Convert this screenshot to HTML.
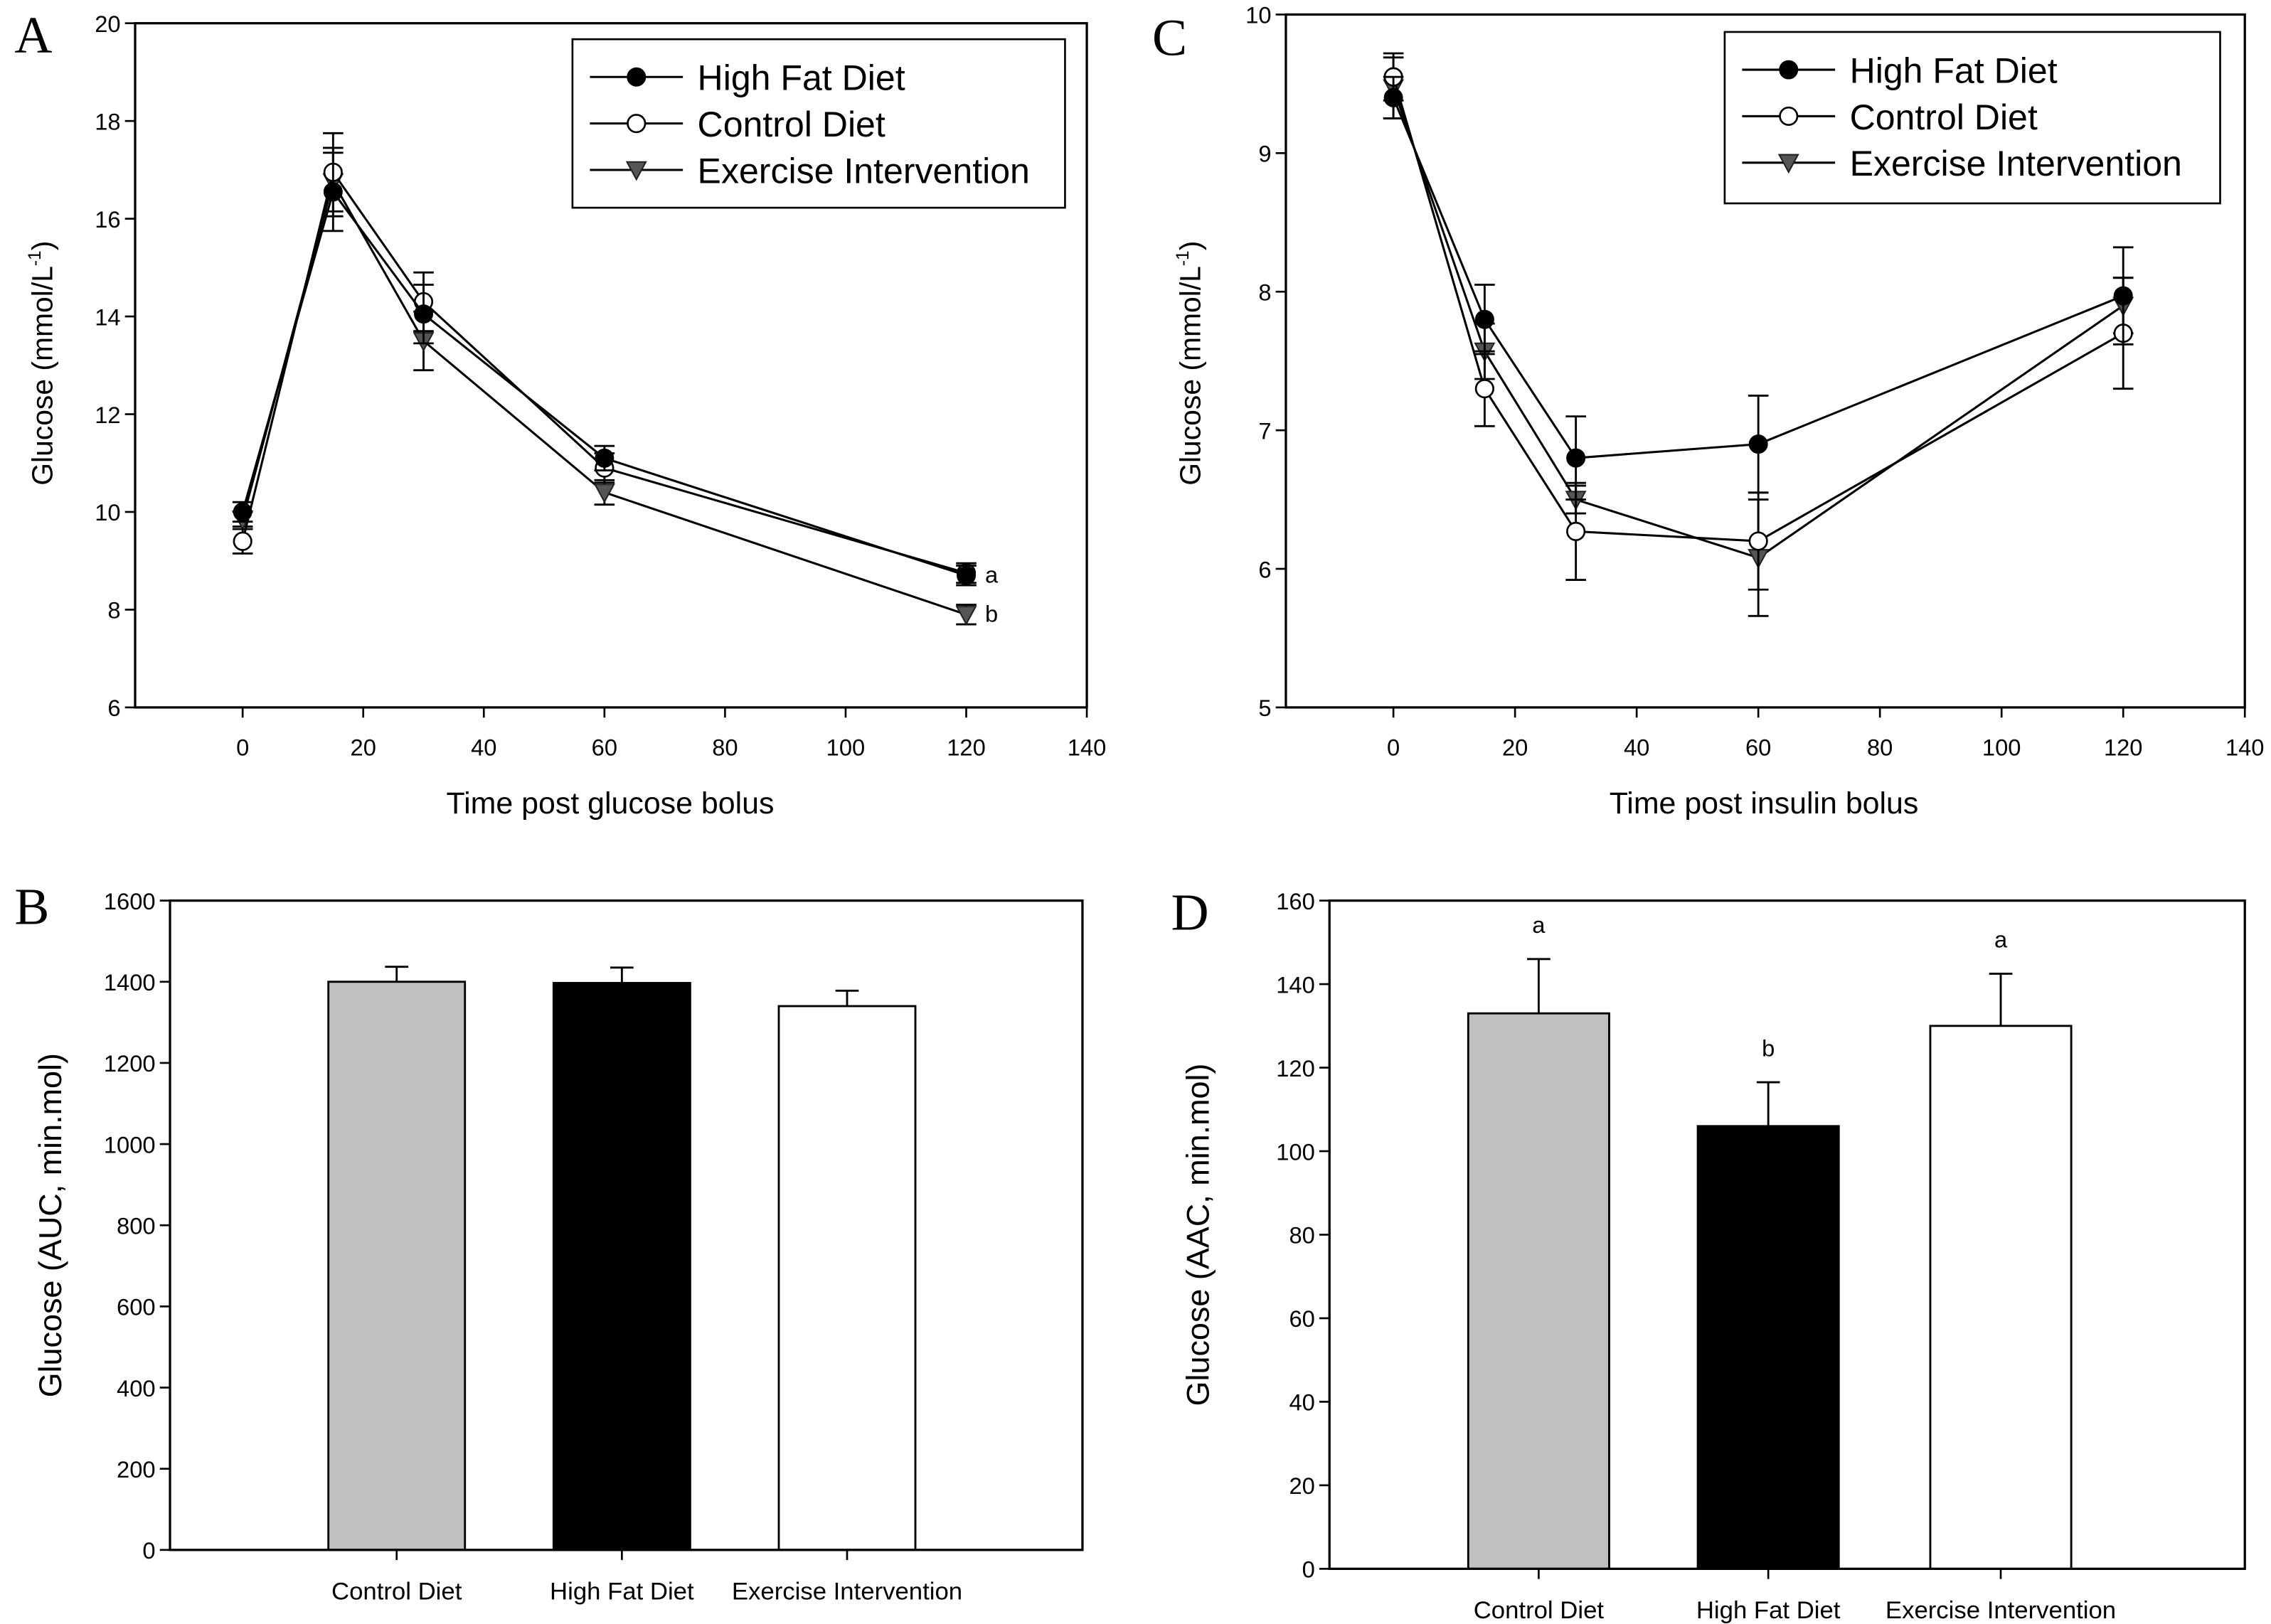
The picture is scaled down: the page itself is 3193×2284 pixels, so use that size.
<!DOCTYPE html>
<html><head><meta charset="utf-8"><style>
html,body{margin:0;padding:0;background:#fff}
svg{display:block}
text{font-family:"Liberation Sans",Arial,sans-serif;fill:#000}
.tk{font-family:"Liberation Sans Narrow","Liberation Sans",sans-serif;font-size:16px}
.ck{font-family:"Liberation Sans Narrow","Liberation Sans",sans-serif;font-size:17px}
.pl{font-family:"Liberation Serif",serif;font-size:36px}
</style></head><body>
<svg id="fig" width="3193" height="2284" viewBox="0 0 1563 1118" preserveAspectRatio="none" xmlns="http://www.w3.org/2000/svg"></svg>
<script>
// ---- Data ----
const timesA = [0, 15, 30, 60, 120];
const hfdA = [10.0, 16.55, 14.05, 11.1, 8.7];
const hfdAErr = [0.2, 0.8, 0.6, 0.25, 0.2];
const ctlA = [9.4, 16.95, 14.3, 10.9, 8.75];
const ctlAErr = [0.25, 0.8, 0.6, 0.3, 0.2];
const exA = [9.85, 16.75, 13.5, 10.4, 7.9];
const exAErr = [0.15, 0.7, 0.6, 0.25, 0.2];
const timesC = [0, 15, 30, 60, 120];
const hfdC = [9.4, 7.8, 6.8, 6.9, 7.97];
const hfdCErr = [0.15, 0.25, 0.3, 0.35, 0.35];
const ctlC = [9.55, 7.3, 6.27, 6.2, 7.7];
const ctlCErr = [0.17, 0.27, 0.35, 0.35, 0.4];
const exC = [9.47, 7.57, 6.5, 6.08, 7.9];
const exCErr = [0.22, 0.2, 0.1, 0.42, 0.2];
const barCats = ["Control Diet", "High Fat Diet", "Exercise Intervention"];
const aucVals = [1400, 1397, 1340];
const aucErr = [37, 38, 38];
const aacVals = [133, 106, 130];
const aacErr = [13, 10.5, 12.5];
const aacLetters = ["a", "b", "a"];
const xTicks = [0, 20, 40, 60, 80, 100, 120, 140];
const yTicksA = [6, 8, 10, 12, 14, 16, 18, 20];
const yTicksC = [5, 6, 7, 8, 9, 10];
const yTicksB = [0, 200, 400, 600, 800, 1000, 1200, 1400, 1600];
const yTicksD = [0, 20, 40, 60, 80, 100, 120, 140, 160];

const NS = "http://www.w3.org/2000/svg";
const svg = document.getElementById("fig");
function el(tag, attrs, parent, txt) {
  const e = document.createElementNS(NS, tag);
  for (const k in attrs) e.setAttribute(k, attrs[k]);
  if (txt !== undefined) e.textContent = txt;
  (parent || svg).appendChild(e);
  return e;
}
function lin(d0, d1, r0, r1) { return v => r0 + (v - d0) * (r1 - r0) / (d1 - d0); }

function frame(g, L, R, T, B) {
  const r = el("rect", {x: L, y: T, width: R - L, height: B - T, fill: "none", stroke: "#000", "stroke-width": 1.6}, g);
  
  
}
function yAxis(g, ticks, y, L) {
  ticks.forEach(t => {
    el("line", {x1: L - 7, x2: L, y1: y(t), y2: y(t), stroke: "#000", "stroke-width": 1.3}, g);
    const tx = el("text", {x: L - 10, y: y(t) + 6, "text-anchor": "end", class: "tk"}, g, String(t));
    
    
  });
}
function xAxisNum(g, ticks, x, B) {
  ticks.forEach(t => {
    el("line", {x1: x(t), x2: x(t), y1: B, y2: B + 7, stroke: "#000", "stroke-width": 1.3}, g);
    const tx = el("text", {x: x(t), y: B + 33, "text-anchor": "middle", class: "tk"}, g, String(t));
    
    
  });
}
function marker(g, type, cx, cy) {
  if (type === "filled") el("circle", {cx, cy, r: 6, fill: "#000", stroke: "#000", "stroke-width": 1.2}, g);
  else if (type === "open") el("circle", {cx, cy, r: 6, fill: "#fff", stroke: "#000", "stroke-width": 1.3}, g);
  else el("polygon", {points: `${cx-6.5},${cy-5.5} ${cx+6.5},${cy-5.5} ${cx},${cy+6.5}`, fill: "#555", stroke: "#222", "stroke-width": 1}, g);
}
function series(g, name, type, xs, ys, es, x, y) {
  const sg = el("g", {}, g);
  
  
  el("polyline", {points: xs.map((t, i) => x(t) + "," + y(ys[i])).join(" "), fill: "none", stroke: "#000", "stroke-width": 1.5}, sg);
  xs.forEach((t, i) => {
    const cx = x(t), y1 = y(ys[i] + es[i]), y2 = y(ys[i] - es[i]);
    el("line", {x1: cx, x2: cx, y1, y2, stroke: "#000", "stroke-width": 1.4}, sg);
    el("line", {x1: cx - 7, x2: cx + 7, y1, y2: y1, stroke: "#000", "stroke-width": 1.4}, sg);
    el("line", {x1: cx - 7, x2: cx + 7, y1: y2, y2: y2, stroke: "#000", "stroke-width": 1.4}, sg);
  });
  xs.forEach((t, i) => marker(sg, type, x(t), y(ys[i])));
}
function legend(g, lx, ly, w, h) {
  const lg = el("g", {}, g);
  
  
  el("rect", {x: lx, y: ly, width: w, height: h, fill: "#fff", stroke: "#000", "stroke-width": 1.3}, lg);
  const items = [["High Fat Diet", "filled"], ["Control Diet", "open"], ["Exercise Intervention", "tri"]];
  items.forEach((it, i) => {
    const yy = ly + 26 + i * 32;
    const eg = el("g", {}, lg);
    
    
    el("line", {x1: lx + 12, x2: lx + 76, y1: yy, y2: yy, stroke: "#000", "stroke-width": 1.5}, eg);
    marker(eg, it[1], lx + 44, yy);
    el("text", {x: lx + 86, y: yy + 9, "font-size": 24.5}, eg, it[0]);
  });
}
function yTitle(g, cx, cy, html, size) {
  const t = el("text", {x: cx, y: cy, "text-anchor": "middle", "font-size": size, transform: `rotate(-90 ${cx} ${cy})`}, g);
  t.innerHTML = html;
  
  
}
function panelLetter(x, y, s) {
  const t = el("text", {x, y, class: "pl"}, svg, s);
  
  
}

// ---- Panel A ----
{
  const g = el("g", {});  
  const L = 93, R = 748, T = 16, B = 487;
  const x = lin(0, 140, 167, 748), y = lin(6, 20, B, T);
  frame(g, L, R, T, B);
  yAxis(g, yTicksA, y, L); xAxisNum(g, xTicks, x, B);
  series(g, "series-exercise", "tri", timesA, exA, exAErr, x, y);
  series(g, "series-control", "open", timesA, ctlA, ctlAErr, x, y);
  series(g, "series-high-fat", "filled", timesA, hfdA, hfdAErr, x, y);
  el("text", {x: x(120) + 13, y: y(hfdA[4]) + 5, "font-size": 16}, g, "a");
  el("text", {x: x(120) + 13, y: y(exA[4]) + 5, "font-size": 16}, g, "b");
  legend(g, 394, 27, 339, 116);
  const xt = el("text", {x: 420, y: 560, "text-anchor": "middle", "font-size": 21}, g, "Time post glucose bolus");
   
  yTitle(g, 36, 250, 'Glucose (mmol/L<tspan font-size="12" dy="-8">-1</tspan><tspan dy="8">)</tspan>', 20);
  panelLetter(10, 36, "A");
}
// ---- Panel C ----
{
  const g = el("g", {});  
  const L = 885, R = 1545, T = 10, B = 487;
  const x = lin(0, 140, 959, 1545), y = lin(5, 10, B, T);
  frame(g, L, R, T, B);
  yAxis(g, yTicksC, y, L); xAxisNum(g, xTicks, x, B);
  series(g, "series-exercise", "tri", timesC, exC, exCErr, x, y);
  series(g, "series-control", "open", timesC, ctlC, ctlCErr, x, y);
  series(g, "series-high-fat", "filled", timesC, hfdC, hfdCErr, x, y);
  legend(g, 1187, 22, 341, 118);
  const xt = el("text", {x: 1214, y: 560, "text-anchor": "middle", "font-size": 21}, g, "Time post insulin bolus");
   
  yTitle(g, 826, 250, 'Glucose (mmol/L<tspan font-size="12" dy="-8">-1</tspan><tspan dy="8">)</tspan>', 20);
  panelLetter(793, 38, "C");
}
// ---- Bar panels ----
function barPanel(name, L, R, T, B, ymax, ticks, vals, errs, centers, bw, ytitle, ytx, letters) {
  const g = el("g", {});  
  const y = lin(0, ymax, B, T);
  const fills = ["#c0c0c0", "#000", "#fff"];
  vals.forEach((v, i) => {
    const c = centers[i];
    el("line", {x1: c, x2: c, y1: y(v), y2: y(v + errs[i]), stroke: "#000", "stroke-width": 1.4}, g);
    el("line", {x1: c - 8, x2: c + 8, y1: y(v + errs[i]), y2: y(v + errs[i]), stroke: "#000", "stroke-width": 1.4}, g);
    const r = el("rect", {x: c - bw / 2, y: y(v), width: bw, height: B - y(v), fill: fills[i], stroke: "#000", "stroke-width": 1.4}, g);
    
    
    el("line", {x1: c, x2: c, y1: B, y2: B + 7, stroke: "#000", "stroke-width": 1.3}, g);
    const t = el("text", {x: c, y: B + 34, "text-anchor": "middle", class: "ck"}, g, barCats[i]);
     
    if (letters) el("text", {x: c, y: y(v + errs[i]) - 18, "text-anchor": "middle", "font-size": 16}, g, letters[i]);
  });
  frame(g, L, R, T, B);
  yAxis(g, ticks, y, L);
  yTitle(g, ytx, (T + B) / 2, ytitle, 22);
}
barPanel("panel-b-auc", 117, 745, 620, 1067, 1600, yTicksB, aucVals, aucErr, [273, 428, 583], 94, "Glucose (AUC, min.mol)", 42, null);
panelLetter(10, 636, "B");
barPanel("panel-d-aac", 915, 1545, 620, 1080, 160, yTicksD, aacVals, aacErr, [1059, 1217, 1377], 97, "Glucose (AAC, min.mol)", 832, aacLetters);
panelLetter(806, 640, "D");
</script>
</body></html>
